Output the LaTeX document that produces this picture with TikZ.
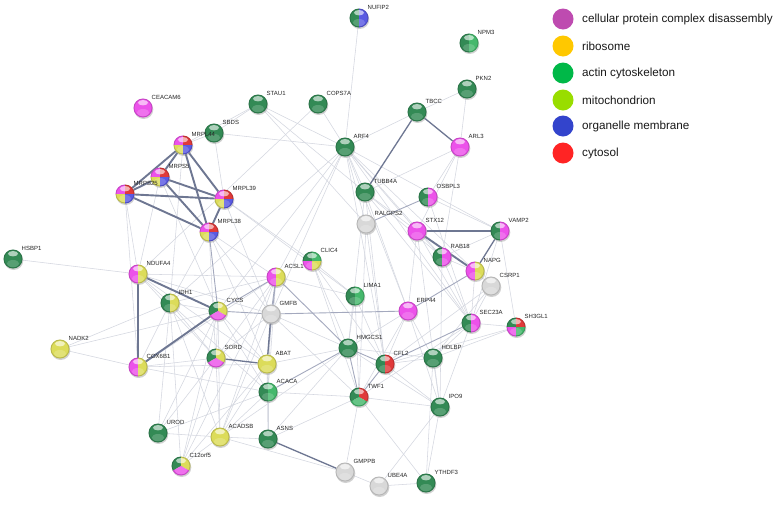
\documentclass[tikz,border=0pt]{standalone}
\usepackage{fontspec}
\setmainfont{Liberation Sans}
\definecolor{colG}{HTML}{338A55}
\definecolor{colGL}{HTML}{45B86C}
\definecolor{colM}{HTML}{EC52EA}
\definecolor{colY}{HTML}{DCDC5A}
\definecolor{colR}{HTML}{E03A3A}
\definecolor{colB}{HTML}{5A5AE2}
\definecolor{colW}{HTML}{D8D8D8}
\definecolor{lgm}{HTML}{BE4BB0}
\definecolor{lgy}{HTML}{FFC800}
\definecolor{lgg}{HTML}{00B848}
\definecolor{lgl}{HTML}{99DD00}
\definecolor{lgb}{HTML}{3344CC}
\definecolor{lgr}{HTML}{FF2424}
\definecolor{edgef}{HTML}{D4D7E0}
\definecolor{edgem}{HTML}{A4A9BE}
\definecolor{edged}{HTML}{6E7792}
\def\R{9.5pt}
\newcommand\pn[3]{\node[ballnode] (#1) at (#2,#3) {};}
\newcommand\shad[1]{\fill[black!40,opacity=.45] ([shift={(0.7pt,-1.4pt)}]#1.center) circle[radius=9.6pt];}
\newcommand\seg[4]{\fill[#2] (#1.center) -- ([shift={(#3:\R)}]#1.center) arc[start angle=#3,end angle=#4,radius=\R] -- cycle;}
\newcommand\gloss[1]{%
  \draw[black,opacity=.16,line width=.9pt] (#1.center) circle[radius=9.05pt];
  \fill[white,opacity=.6] ([shift={(0,5.3pt)}]#1.center) ellipse[x radius=5pt,y radius=2.7pt];
  \fill[white,opacity=.18] ([shift={(0,-4.6pt)}]#1.center) ellipse[x radius=6.2pt,y radius=3.6pt];}
\newcommand\bone[2]{\shad{#1}\seg{#1}{#2}{0}{360}\gloss{#1}}
\newcommand\bhalf[3]{\shad{#1}\seg{#1}{#2}{90}{270}\seg{#1}{#3}{-90}{90}\gloss{#1}}
\newcommand\bquad[5]{\shad{#1}\seg{#1}{#2}{90}{180}\seg{#1}{#3}{0}{90}\seg{#1}{#4}{180}{270}\seg{#1}{#5}{270}{360}\gloss{#1}}
\newcommand\bthird[4]{\shad{#1}\seg{#1}{#2}{90}{210}\seg{#1}{#3}{-30}{90}\seg{#1}{#4}{210}{330}\gloss{#1}}
\newcommand\lab[2]{\node[lab] (l-#1) at ([shift={(8.5pt,8.3pt)}]#1.center) {#2};}
\begin{document}
\begin{tikzpicture}[x=1pt,y=-1pt,
  ballnode/.style={circle,minimum size=19pt,inner sep=0pt,outer sep=0pt},
  lab/.style={font=\fontsize{6}{7}\selectfont,text=black!85,anchor=base west,inner sep=0pt},
  ef/.style={draw=edgef,line width=0.55pt},
  em/.style={draw=edgem,line width=0.9pt},
  emm/.style={draw=edged,line width=1.3pt},
  et/.style={draw=edged,line width=1.9pt},
  legtext/.style={font=\fontsize{11.7}{13}\selectfont,anchor=west,inner sep=0pt,text=black!90}]
\useasboundingbox[fill=white] (0,0) rectangle (776,504);
% ---------- node placement
\pn{NUFIP2}{359}{18}
\pn{NPM3}{469}{43}
\pn{PKN2}{467}{89}
\pn{TBCC}{417}{112}
\pn{ARL3}{460}{147}
\pn{CEACAM6}{143}{108}
\pn{STAU1}{258}{104}
\pn{COPS7A}{318}{104}
\pn{SBDS}{214}{133}
\pn{MRPL44}{183}{145}
\pn{ARF4}{345}{147}
\pn{MRPS5}{160}{177}
\pn{MRPS25}{125}{194}
\pn{MRPL39}{224}{199}
\pn{MRPL38}{209}{232}
\pn{TUBB4A}{365}{192}
\pn{OSBPL3}{428}{197}
\pn{RALGPS2}{366}{224}
\pn{STX12}{417}{231}
\pn{VAMP2}{500}{231}
\pn{RAB18}{442}{257}
\pn{NAPG}{475}{271}
\pn{CSRP1}{491}{286}
\pn{CLIC4}{312}{261}
\pn{ACSL1}{276}{277}
\pn{LIMA1}{355}{296}
\pn{HSBP1}{13}{259}
\pn{NDUFA4}{138}{274}
\pn{IDH1}{170}{303}
\pn{CYCS}{218}{311}
\pn{GMFB}{271}{314}
\pn{ERP44}{408}{311}
\pn{SEC23A}{471}{323}
\pn{SH3GL1}{516}{327}
\pn{NADK2}{60}{349}
\pn{COX6B1}{138}{367}
\pn{SORD}{216}{358}
\pn{ABAT}{267}{364}
\pn{HMGCS1}{348}{348}
\pn{CFL2}{385}{364}
\pn{HDLBP}{433}{358}
\pn{ACACA}{268}{392}
\pn{TWF1}{359}{397}
\pn{IPO9}{440}{407}
\pn{UROD}{158}{433}
\pn{ACADSB}{220}{437}
\pn{ASNS}{268}{439}
\pn{C12orf5}{181}{466}
\pn{GMPPB}{345}{472}
\pn{UBE4A}{379}{486}
\pn{YTHDF3}{426}{483}
% ---------- faint edges
\foreach \a/\b in {ARF4/STAU1,ARF4/SBDS,ARF4/NUFIP2,ARF4/TBCC,ARF4/TUBB4A,ARF4/STX12,ARF4/RAB18,ARF4/SEC23A,ARF4/ERP44,ARF4/NAPG,ARF4/ACSL1,ARF4/GMFB,ARF4/RALGPS2,ARF4/VAMP2,ARF4/IDH1,ARF4/CYCS,ARF4/CFL2,
  STAU1/SBDS,STAU1/TUBB4A,STAU1/MRPL44,STAU1/RALGPS2,COPS7A/NDUFA4,COPS7A/ARF4,PKN2/TBCC,PKN2/ARL3,
  ARL3/STX12,ARL3/RAB18,ARL3/OSBPL3,ARL3/TUBB4A,SBDS/MRPL44,SBDS/MRPL39,MRPL39/CLIC4,MRPL39/GMFB,MRPL39/LIMA1,
  MRPL38/IDH1,MRPL38/GMFB,MRPL38/ABAT,MRPL38/ACADSB,MRPL38/ACSL1,MRPS25/NDUFA4,MRPS25/COX6B1,MRPS5/NDUFA4,MRPS5/CYCS,MRPL44/IDH1,
  HSBP1/NDUFA4,NADK2/COX6B1,NADK2/IDH1,NADK2/CYCS,
  NDUFA4/IDH1,NDUFA4/SORD,NDUFA4/ACSL1,NDUFA4/GMFB,NDUFA4/ABAT,
  IDH1/CYCS,IDH1/SORD,IDH1/COX6B1,IDH1/ACSL1,IDH1/ACADSB,IDH1/UROD,IDH1/C12orf5,IDH1/ACACA,
  CYCS/SORD,CYCS/ABAT,CYCS/C12orf5,CYCS/ACADSB,CYCS/UROD,CYCS/ACACA,
  ACSL1/ACACA,ACSL1/ACADSB,ACSL1/SORD,ACSL1/COX6B1,ACSL1/C12orf5,ACSL1/LIMA1,
  CLIC4/LIMA1,CLIC4/HMGCS1,CLIC4/TWF1,CLIC4/CFL2,
  GMFB/HMGCS1,GMFB/TWF1,GMFB/ACACA,GMFB/ACADSB,GMFB/SORD,
  LIMA1/HMGCS1,LIMA1/CFL2,LIMA1/TWF1,RALGPS2/CFL2,RALGPS2/TWF1,
  TUBB4A/STX12,TUBB4A/RAB18,TUBB4A/CFL2,TUBB4A/SEC23A,TUBB4A/HMGCS1,TUBB4A/ERP44,
  STX12/RAB18,STX12/SEC23A,STX12/ERP44,STX12/IPO9,OSBPL3/VAMP2,OSBPL3/SEC23A,
  VAMP2/SEC23A,VAMP2/SH3GL1,VAMP2/RAB18,RAB18/NAPG,RAB18/SEC23A,RAB18/IPO9,
  NAPG/SEC23A,NAPG/CSRP1,CSRP1/CFL2,CSRP1/HDLBP,CSRP1/SEC23A,
  ERP44/CFL2,ERP44/HMGCS1,ERP44/IPO9,ERP44/TWF1,ERP44/HDLBP,
  SEC23A/HDLBP,SEC23A/IPO9,SEC23A/SH3GL1,SEC23A/TWF1,SH3GL1/HDLBP,SH3GL1/CFL2,
  HDLBP/IPO9,HDLBP/YTHDF3,HDLBP/CFL2,HDLBP/HMGCS1,IPO9/YTHDF3,IPO9/TWF1,IPO9/UBE4A,IPO9/CFL2,IPO9/HMGCS1,
  HMGCS1/ABAT,HMGCS1/ASNS,HMGCS1/ACADSB,TWF1/GMPPB,TWF1/YTHDF3,TWF1/ACACA,TWF1/ASNS,
  ABAT/ACACA,ABAT/ACADSB,ABAT/C12orf5,ABAT/ASNS,ACACA/ASNS,ACACA/ACADSB,ACACA/UROD,
  ASNS/ACADSB,ACADSB/C12orf5,ACADSB/UROD,UROD/SORD,C12orf5/SORD,COX6B1/SORD,COX6B1/ABAT,COX6B1/ACACA,
  GMPPB/UBE4A,UBE4A/YTHDF3,GMPPB/ACADSB}
  {\draw[ef] (\a) -- (\b);}
% ---------- medium edges
\foreach \a/\b in {ACSL1/GMFB,ACSL1/ABAT,ACSL1/CYCS,CYCS/GMFB,GMFB/ERP44,ACSL1/HMGCS1,ACACA/HMGCS1,
  HMGCS1/CFL2,HMGCS1/TWF1,CFL2/TWF1,RALGPS2/OSBPL3,ERP44/NAPG,SEC23A/CFL2,MRPL38/CYCS,COX6B1/CYCS}
  {\draw[em] (\a) -- (\b);}
\foreach \a/\b in {GMFB/ABAT,SORD/ABAT,ASNS/GMPPB,TBCC/ARL3,TBCC/TUBB4A,VAMP2/NAPG}
  {\draw[emm] (\a) -- (\b);}
% ---------- thick edges
\foreach \a/\b in {MRPL44/MRPS5,MRPL44/MRPS25,MRPL44/MRPL39,MRPL44/MRPL38,MRPS5/MRPS25,MRPS5/MRPL39,MRPS5/MRPL38,
  MRPS25/MRPL39,MRPS25/MRPL38,MRPL39/MRPL38,NDUFA4/COX6B1,NDUFA4/CYCS,COX6B1/CYCS,STX12/VAMP2,STX12/NAPG}
  {\draw[et] (\a) -- (\b);}
% ---------- spheres
\bhalf{NUFIP2}{colG}{colB}
\bhalf{NPM3}{colG}{colGL}
\bone{PKN2}{colG}
\bone{TBCC}{colG}
\bone{ARL3}{colM}
\bone{CEACAM6}{colM}
\bone{STAU1}{colG}
\bone{COPS7A}{colG}
\bone{SBDS}{colG}
\bquad{MRPL44}{colM}{colR}{colY}{colB}
\bone{ARF4}{colG}
\bquad{MRPS5}{colM}{colR}{colY}{colB}
\bquad{MRPS25}{colM}{colR}{colY}{colB}
\bquad{MRPL39}{colM}{colR}{colY}{colB}
\bquad{MRPL38}{colM}{colR}{colY}{colB}
\bone{TUBB4A}{colG}
\bhalf{OSBPL3}{colG}{colM}
\bone{RALGPS2}{colW}
\bone{STX12}{colM}
\bhalf{VAMP2}{colG}{colM}
\bhalf{RAB18}{colG}{colM}
\bhalf{NAPG}{colM}{colY}
\bone{CSRP1}{colW}
\bquad{CLIC4}{colG}{colGL}{colM}{colY}
\bhalf{ACSL1}{colM}{colY}
\bhalf{LIMA1}{colG}{colGL}
\bone{HSBP1}{colG}
\bhalf{NDUFA4}{colM}{colY}
\bhalf{IDH1}{colG}{colY}
\bthird{CYCS}{colG}{colY}{colM}
\bone{GMFB}{colW}
\bone{ERP44}{colM}
\bhalf{SEC23A}{colG}{colM}
\bquad{SH3GL1}{colG}{colR}{colM}{colGL}
\bone{NADK2}{colY}
\bhalf{COX6B1}{colM}{colY}
\bthird{SORD}{colG}{colY}{colM}
\bone{ABAT}{colY}
\bone{HMGCS1}{colG}
\bhalf{CFL2}{colG}{colR}
\bone{HDLBP}{colG}
\bhalf{ACACA}{colG}{colGL}
\bthird{TWF1}{colG}{colR}{colGL}
\bone{IPO9}{colG}
\bone{UROD}{colG}
\bone{ACADSB}{colY}
\bone{ASNS}{colG}
\bthird{C12orf5}{colG}{colY}{colM}
\bone{GMPPB}{colW}
\bone{UBE4A}{colW}
\bone{YTHDF3}{colG}
% ---------- labels
\lab{NUFIP2}{NUFIP2}\lab{NPM3}{NPM3}\lab{PKN2}{PKN2}\lab{TBCC}{TBCC}\lab{ARL3}{ARL3}
\lab{CEACAM6}{CEACAM6}\lab{STAU1}{STAU1}\lab{COPS7A}{COPS7A}\lab{SBDS}{SBDS}\lab{MRPL44}{MRPL44}
\lab{ARF4}{ARF4}\lab{MRPS5}{MRPS5}\lab{MRPS25}{MRPS25}\lab{MRPL39}{MRPL39}\lab{MRPL38}{MRPL38}
\lab{TUBB4A}{TUBB4A}\lab{OSBPL3}{OSBPL3}\lab{RALGPS2}{RALGPS2}\lab{STX12}{STX12}\lab{VAMP2}{VAMP2}
\lab{RAB18}{RAB18}\lab{NAPG}{NAPG}\lab{CSRP1}{CSRP1}\lab{CLIC4}{CLIC4}\lab{ACSL1}{ACSL1}
\lab{LIMA1}{LIMA1}\lab{HSBP1}{HSBP1}\lab{NDUFA4}{NDUFA4}\lab{IDH1}{IDH1}\lab{CYCS}{CYCS}
\lab{GMFB}{GMFB}\lab{ERP44}{ERP44}\lab{SEC23A}{SEC23A}\lab{SH3GL1}{SH3GL1}\lab{NADK2}{NADK2}
\lab{COX6B1}{COX6B1}\lab{SORD}{SORD}\lab{ABAT}{ABAT}\lab{HMGCS1}{HMGCS1}\lab{CFL2}{CFL2}
\lab{HDLBP}{HDLBP}\lab{ACACA}{ACACA}\lab{TWF1}{TWF1}\lab{IPO9}{IPO9}\lab{UROD}{UROD}
\lab{ACADSB}{ACADSB}\lab{ASNS}{ASNS}\lab{C12orf5}{C12orf5}\lab{GMPPB}{GMPPB}\lab{UBE4A}{UBE4A}
\lab{YTHDF3}{YTHDF3}
% ---------- legend
\foreach \i/\c/\t/\yy in {1/lgm/cellular protein complex disassembly/19,2/lgy/ribosome/46,3/lgg/actin cytoskeleton/73,
  4/lgl/mitochondrion/100,5/lgb/organelle membrane/126,6/lgr/cytosol/153}{
  \node[circle,fill=\c,minimum size=21pt,inner sep=0pt] (leg\i) at (563,\yy) {};
  \node[legtext] (legt\i) at (582,\yy) {\t};
}
\end{tikzpicture}
\end{document}
